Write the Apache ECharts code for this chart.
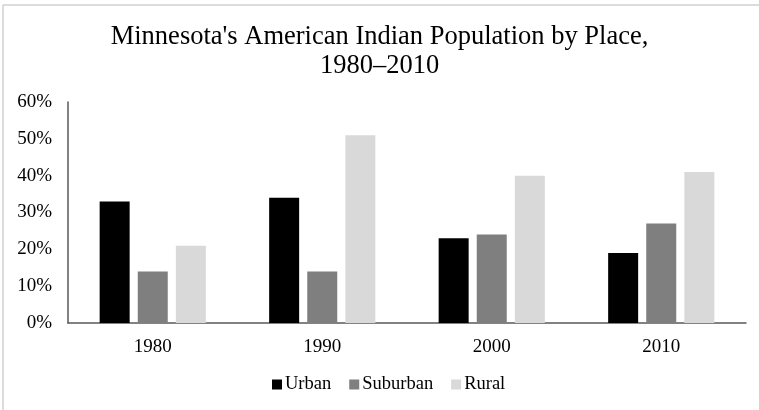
<!DOCTYPE html>
<html><head><meta charset="utf-8">
<script src="https://cdn.jsdelivr.net/npm/echarts@6/dist/echarts.min.js"></script>
<style>html,body{margin:0;padding:0;background:#fff}#c{width:759px;height:410px}</style>
</head><body><div id="c"></div>
<script>
const categories = ['1980','1990','2000','2010'];
const urban = [33, 34, 23, 19];
const suburban = [14, 14, 24, 27];
const rural = [21, 51, 40, 41];
const serif = '"Liberation Serif", "Times New Roman", serif';
const chart = echarts.init(document.getElementById('c'));
chart.setOption({
  animation: false,
  title: {
    text: "Minnesota's American Indian Population by Place,\n1980\u20132010",
    left: 'center', top: 18, padding: [5, 0, 5, 10],
    textStyle: { fontFamily: serif, fontSize: 26.5, fontWeight: 'normal', color: '#000', lineHeight: 29 }
  },
  graphic: [
    { type: 'line', shape: { x1: 3, y1: 5, x2: 759, y2: 5 }, style: { stroke: '#d0d0d0', lineWidth: 1.5 } },
    { type: 'line', shape: { x1: 3, y1: 5, x2: 3, y2: 410 }, style: { stroke: '#d0d0d0', lineWidth: 1.5 } }
  ],
  legend: {
    bottom: 11, left: 267, itemWidth: 10, itemHeight: 10, itemGap: 18,
    icon: 'rect',
    textStyle: { fontFamily: serif, fontSize: 18.5, color: '#000', padding: [0,0,0,-2] },
    data: ['Urban','Suburban','Rural']
  },
  grid: { left: 68, right: 13, top: 102, bottom: 87 },
  xAxis: {
    type: 'category', data: categories,
    axisLine: { lineStyle: { color: '#595959', width: 1.5 } },
    axisTick: { show: false },
    axisLabel: { fontFamily: serif, fontSize: 19, color: '#000', margin: 15 }
  },
  yAxis: {
    type: 'value', min: 0, max: 60, interval: 10,
    axisLine: { show: true, lineStyle: { color: '#595959', width: 1.5 } },
    axisTick: { show: false },
    splitLine: { show: false },
    axisLabel: { fontFamily: serif, fontSize: 19, color: '#000', margin: 16, formatter: '{value}%' }
  },
  series: [
    { name: 'Urban', type: 'bar', data: urban, barWidth: 30, barGap: '27%', itemStyle: { color: '#000000' } },
    { name: 'Suburban', type: 'bar', data: suburban, barWidth: 30, barGap: '27%', itemStyle: { color: '#7f7f7f' } },
    { name: 'Rural', type: 'bar', data: rural, barWidth: 30, barGap: '27%', itemStyle: { color: '#d9d9d9' } }
  ]
});
</script></body></html>
